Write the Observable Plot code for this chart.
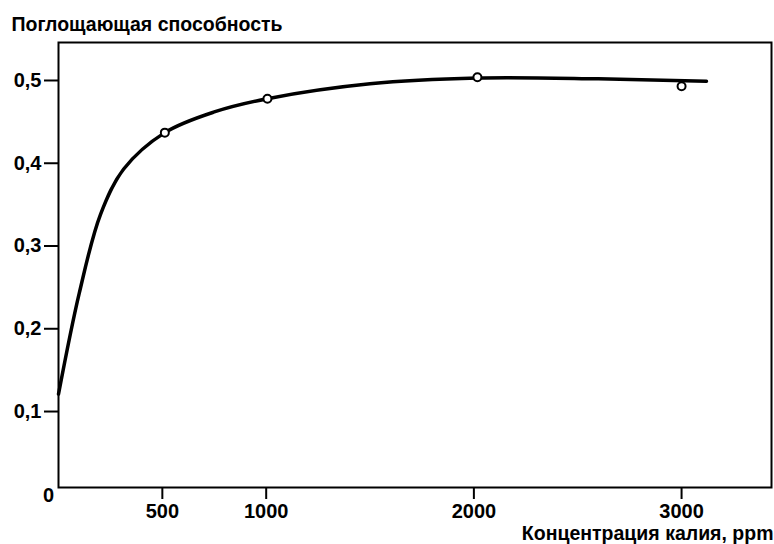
<!DOCTYPE html>
<html>
<head>
<meta charset="utf-8">
<script src="https://cdn.jsdelivr.net/npm/d3@7"></script>
<script src="https://cdn.jsdelivr.net/npm/@observablehq/plot@0.6"></script>
<style>
  html, body { margin: 0; padding: 0; background: #fff; }
  #chart svg { display: block; font-family: "Liberation Sans", Arial, sans-serif; }
</style>
</head>
<body>
<div id="chart"></div>
<script>
// Smooth fitted curve (concentration ppm -> absorbance)
const curveX = [0, 100, 202, 314, 512, 750, 1006, 1500, 2017, 2600, 3120];
const curveY = [0.121, 0.243, 0.338, 0.393, 0.437, 0.462, 0.478, 0.496, 0.503, 0.502, 0.499];
// Measured points
const pointX = [512, 1006, 2017, 3000];
const pointY = [0.437, 0.478, 0.504, 0.493];
// Ticks
const xTicks = [500, 1000, 2000, 3000];
const yTicks = [0.1, 0.2, 0.3, 0.4, 0.5];
const title = "Поглощающая способность";
const xLabel = "Концентрация калия, ppm";
const originLabel = "0";

const curve = curveX.map((x, i) => ({x, y: curveY[i]}));
const points = pointX.map((x, i) => ({x, y: pointY[i]}));

const chart = Plot.plot({
  width: 774,
  height: 544,
  marginTop: 42,
  marginLeft: 58,
  marginRight: 3,
  marginBottom: 57,
  style: {fontFamily: "'Liberation Sans', Arial, sans-serif", fontWeight: "bold", color: "#000", background: "#fff"},
  x: {domain: [0, 3433]},
  y: {domain: [0.0082, 0.5459]},
  marks: [
    Plot.axisX({ticks: xTicks, tickSize: 12, tickPadding: 4, strokeWidth: 2, fontSize: 20, label: null, tickFormat: d => String(d)}),
    Plot.axisY({ticks: yTicks, tickSize: 14, tickPadding: 3, strokeWidth: 2, fontSize: 20, label: null, tickFormat: d => d.toFixed(1).replace(".", ",")}),
    Plot.frame({stroke: "#000", strokeWidth: 2}),
    Plot.line(curve, {x: "x", y: "y", curve: "catmull-rom", stroke: "#000", strokeWidth: 3.5}),
    Plot.dot(points, {x: "x", y: "y", r: 4, fill: "#fff", stroke: "#000", strokeWidth: 2}),
    Plot.text([title], {frameAnchor: "top-left", text: d => d, dx: -47, dy: -25, textAnchor: "start", fontSize: 19.5, fontWeight: "bold", fill: "#000"}),
    Plot.text([xLabel], {frameAnchor: "bottom-right", text: d => d, dx: 2, dy: 52, textAnchor: "end", fontSize: 19.5, fontWeight: "bold", fill: "#000"}),
    Plot.text([originLabel], {frameAnchor: "bottom-left", text: d => d, dx: -10, dy: 14, textAnchor: "middle", fontSize: 20, fontWeight: "bold", fill: "#000"})
  ]
});
document.getElementById("chart").appendChild(chart);
</script>
</body>
</html>
